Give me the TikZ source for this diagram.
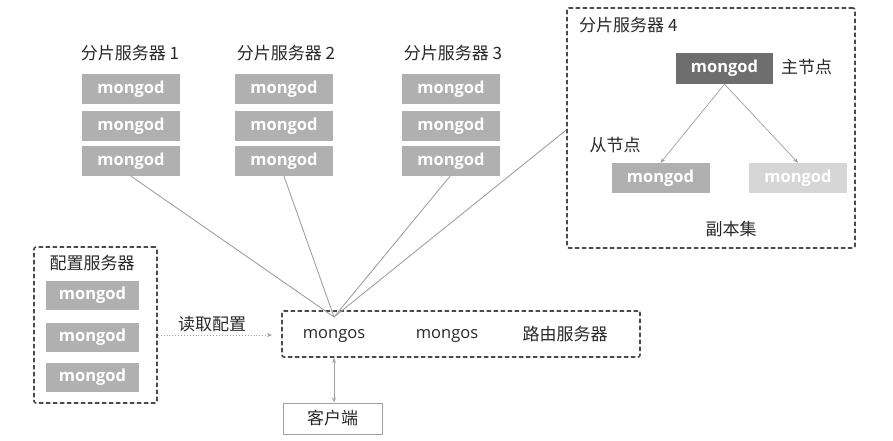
\documentclass[tikz,border=0pt]{standalone}
\usepackage{fontspec}
\setmainfont{Noto Sans CJK SC}
\newfontfamily\latinfont{Open Sans}
\usetikzlibrary{arrows.meta}
\definecolor{boxgray}{RGB}{176,176,176}
\definecolor{primgray}{RGB}{110,110,110}
\definecolor{seclight}{RGB}{214,214,214}
\definecolor{txtgray}{RGB}{40,40,40}
\definecolor{linegray}{RGB}{160,160,160}
\definecolor{dashgray}{RGB}{75,75,75}
\tikzset{
  mbox/.style={fill=boxgray, draw=none, minimum width=98pt, minimum height=30pt, inner sep=0pt,
    text=white, font=\latinfont\bfseries\fontsize{16.5}{19}\selectfont},
  cbox/.style={mbox, minimum width=93pt, minimum height=29pt},
  lab/.style={text=txtgray, font=\fontsize{17}{20}\selectfont, inner sep=0pt},
  mtext/.style={text=txtgray, font=\latinfont\fontsize{16.5}{18}\selectfont, inner sep=0pt},
  group/.style={draw=dashgray, line width=1.6pt, dash pattern=on 4.5pt off 2.5pt, rounded corners=2pt},
  conn/.style={draw=linegray, line width=0.9pt},
  tip/.style={-{Stealth[length=5pt,width=4pt]}},
}
\begin{document}
\begin{tikzpicture}[x=1pt,y=-1pt]
\useasboundingbox (0,0) rectangle (893,441);
% shard servers 1-3
\node[lab] (t1) at (130,53) {分片服务器 1};
\node[lab] (t2) at (286,53) {分片服务器 2};
\node[lab] (t3) at (453,53) {分片服务器 3};
\foreach \c/\x in {1/131,2/284,3/451}{
  \node[mbox] (s\c a) at (\x,89.5) {mongod};
  \node[mbox] (s\c b) at (\x,126) {mongod};
  \node[mbox] (s\c c) at (\x,161) {mongod};
}
% shard 4
\node[group, minimum width=288pt, minimum height=240pt, inner sep=0pt] (g4) at (711,128) {};
\node[lab, anchor=west] (t4) at (579,25) {分片服务器 4};
\node[mbox, fill=primgray, minimum width=97pt, minimum height=31pt] (prim) at (724.5,68.5) {mongod};
\node[lab, anchor=west] (primlab) at (781,67) {主节点};
\node[lab] (seclab) at (615,145) {从节点};
\node[mbox] (secl) at (660.5,178) {mongod};
\node[mbox, fill=seclight] (secr) at (798,178) {mongod};
\node[lab] (rs) at (731,229) {副本集};
\draw[conn, tip, line width=0.7pt] (prim.south) -- (secl.north);
\draw[conn, tip, line width=0.7pt] (prim.south) -- (secr.north);
% config servers
\node[group, minimum width=123pt, minimum height=156pt, inner sep=0pt] (cfg) at (95.5,325) {};
\node[lab] (cfgt) at (92,263) {配置服务器};
\node[cbox] (c1) at (92.5,295.5) {mongod};
\node[cbox] (c2) at (92.5,337) {mongod};
\node[cbox] (c3) at (92.5,377.5) {mongod};
% router
\node[group, minimum width=358pt, minimum height=46pt, inner sep=0pt] (router) at (461,334) {};
\node[mtext] (ms1) at (334,336) {mongos};
\node[mtext] (ms2) at (447,336) {mongos};
\node[lab] (rlab) at (565,334) {路由服务器};
\coordinate (conv) at (334,317);
\coordinate (cfgin) at (272,335);
% read config arrow
\node[lab] (readlab) at (212,324) {读取配置};
\draw[conn, tip, dotted, line width=0.8pt] (cfg.east |- cfgin) -- (cfgin);
% shard lines
\draw[conn] (s1c.south) -- (conv);
\draw[conn] (s2c.south) -- (conv);
\draw[conn] ([xshift=-1pt]s3c.south) -- (conv);
\draw[conn] (g4.west |- 0,130) -- (conv);
% client
\node[draw=linegray, line width=1pt, minimum width=99pt, minimum height=31pt, inner sep=0pt, lab] (client) at (332.5,418.5) {客户端};
\draw[conn, {Stealth[length=5pt,width=4pt]}-{Stealth[length=5pt,width=4pt]}, line width=0.8pt] (ms1.south |- router.south) -- (ms1.south |- client.north);
\end{tikzpicture}
\end{document}
